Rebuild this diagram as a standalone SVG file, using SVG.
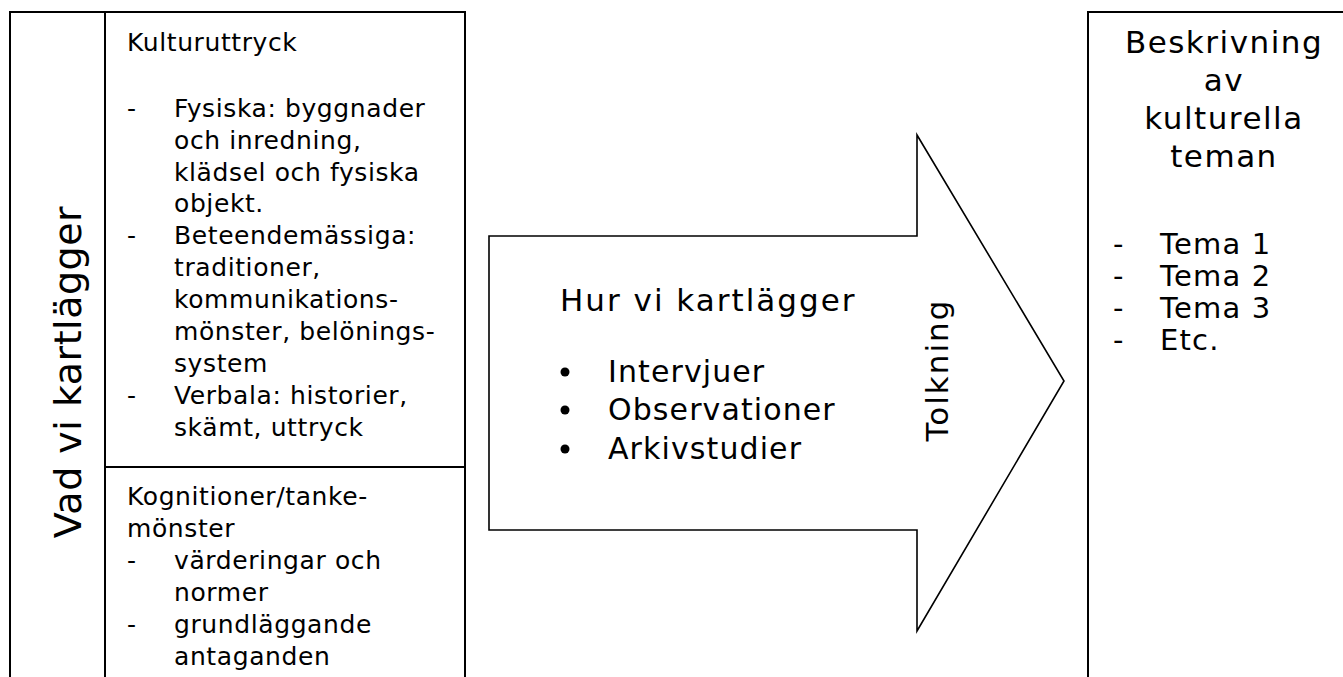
<svg xmlns="http://www.w3.org/2000/svg" width="1343" height="677" viewBox="0 0 1343 677">
<style>
.ln{stroke:#000;stroke-width:2;fill:none}
.ar{stroke:#000;stroke-width:1.6;fill:#fff;stroke-linejoin:miter}
text{font-family:"DejaVu Sans","Verdana",sans-serif;fill:#000}
.s{font-size:25px;letter-spacing:0.6px}
.h{font-size:31px;letter-spacing:2px}
.l{font-size:30px;letter-spacing:1.1px}
.t{font-size:31px;letter-spacing:2px}
.bh{font-size:31px;letter-spacing:1.5px}
.bt{font-size:29px;letter-spacing:1.2px}
.v{font-size:38px;letter-spacing:0.5px}
</style>
<rect width="1343" height="677" fill="#fff"/>
<g id="vad">
<line class="ln" x1="10" y1="12" x2="10" y2="677"/>
<line class="ln" x1="9" y1="12" x2="466" y2="12"/>
<text class="v" transform="translate(81,372) rotate(-90)" text-anchor="middle">Vad vi kartlägger</text>
</g>
<g id="kultur">
<line class="ln" x1="105" y1="12" x2="105" y2="677"/>
<line class="ln" x1="465" y1="12" x2="465" y2="677"/>
<line class="ln" x1="105" y1="467" x2="465" y2="467"/>
<text class="s" x="127" y="51">Kulturuttryck</text>
<g class="s">
<text x="127" y="117">-</text>
<text x="174" y="117">Fysiska: byggnader</text>
<text x="174" y="149">och inredning,</text>
<text x="174" y="181">klädsel och fysiska</text>
<text x="174" y="212">objekt.</text>
<text x="127" y="244">-</text>
<text x="174" y="244">Beteendemässiga:</text>
<text x="174" y="276">traditioner,</text>
<text x="174" y="308">kommunikations-</text>
<text x="174" y="340">mönster, belönings-</text>
<text x="174" y="372">system</text>
<text x="127" y="404">-</text>
<text x="174" y="404">Verbala: historier,</text>
<text x="174" y="436">skämt, uttryck</text>
</g>
</g>
<g id="kognition" class="s">
<text x="127" y="505">Kognitioner/tanke-</text>
<text x="127" y="537">mönster</text>
<text x="127" y="569">-</text>
<text x="174" y="569">värderingar och</text>
<text x="174" y="601">normer</text>
<text x="127" y="633">-</text>
<text x="174" y="633">grundläggande</text>
<text x="174" y="665">antaganden</text>
</g>
<g id="connectors">
<polygon class="ar" points="489,236 917,236 917,135 1064,381 917,631 917,530 489,530"/>
</g>
<g id="hur">
<text class="h" x="560" y="311">Hur vi kartlägger</text>
<circle cx="565" cy="372" r="4.5"/>
<circle cx="565" cy="410" r="4.5"/>
<circle cx="565" cy="449" r="4.5"/>
<text class="l" x="608" y="382">Intervjuer</text>
<text class="l" x="608" y="420">Observationer</text>
<text class="l" x="608" y="459">Arkivstudier</text>
<text class="t" transform="translate(948,370) rotate(-90)" text-anchor="middle">Tolkning</text>
</g>
<g id="beskrivning">
<line class="ln" x1="1088" y1="12" x2="1088" y2="677"/>
<line class="ln" x1="1087" y1="12" x2="1343" y2="12"/>
<g class="bh" text-anchor="middle">
<text x="1224" y="53">Beskrivning</text>
<text x="1224" y="91">av</text>
<text x="1224" y="129">kulturella</text>
<text x="1224" y="167">teman</text>
</g>
<g class="bt">
<text x="1113" y="254">-</text>
<text x="1160" y="254">Tema 1</text>
<text x="1113" y="286">-</text>
<text x="1160" y="286">Tema 2</text>
<text x="1113" y="318">-</text>
<text x="1160" y="318">Tema 3</text>
<text x="1113" y="350">-</text>
<text x="1160" y="350">Etc.</text>
</g>
</g>
</svg>
